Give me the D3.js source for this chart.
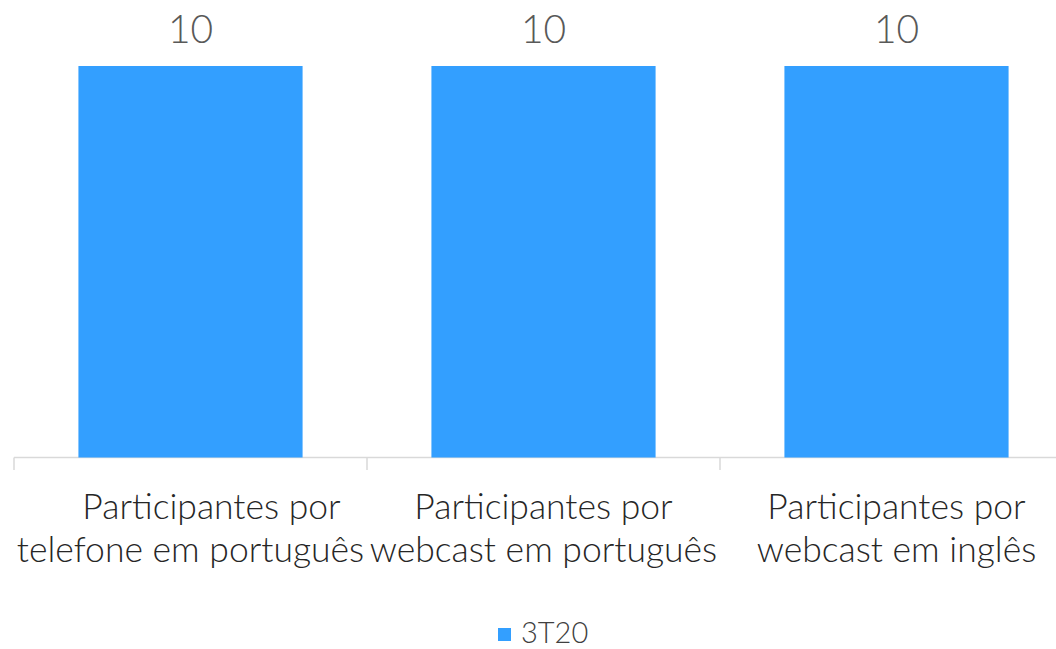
<!DOCTYPE html>
<html><head><meta charset="utf-8">
<script src="https://cdn.jsdelivr.net/npm/d3@7"></script>
<style>body{margin:0;background:#fff;}svg{display:block;font-family:Lato,sans-serif;font-weight:300;}</style>
</head><body>
<svg id="c" width="1056" height="649"></svg>
<script>
const categories = ["Participantes por telefone em português", "Participantes por webcast em português", "Participantes por webcast em inglês"];
const categoryLines = [["Participantes por","telefone em português"],["Participantes por","webcast em português"],["Participantes por","webcast em inglês"]];
const values = [10, 10, 10];
const seriesName = "3T20";

const svg = d3.select("#c");
const x = d3.scaleBand().domain(categories).range([14, 14 + 3*353]).paddingInner(0.365).paddingOuter(0.1825);
const y = d3.scaleLinear().domain([0, 10]).range([457.5, 66]);

svg.append("line").attr("x1",14).attr("x2",1056).attr("y1",457.5).attr("y2",457.5).attr("stroke","#d9d9d9").attr("stroke-width",1.5);
const step = x.step();
categories.forEach((c,i)=>{
  const tx = 14 + i*step;
  svg.append("line").attr("x1",tx).attr("x2",tx).attr("y1",457.5).attr("y2",470).attr("stroke","#d9d9d9").attr("stroke-width",1.5);
});

svg.selectAll("rect.bar").data(values).enter().append("rect").attr("class","bar")
  .attr("x",(d,i)=>x(categories[i])).attr("width",x.bandwidth())
  .attr("y",d=>y(d)).attr("height",d=>y(0)-y(d)).attr("fill","#339fff");

svg.selectAll("text.val").data(values).enter().append("text").attr("class","val")
  .attr("x",(d,i)=>x(categories[i])+x.bandwidth()/2).attr("y",d=>y(d)-23)
  .attr("text-anchor","middle").attr("font-size",39).attr("fill","#595959").text(d=>d);

categories.forEach((c,i)=>{
  const cx = x(c)+x.bandwidth()/2;
  const t = svg.append("text").attr("text-anchor","middle").attr("font-size",35.5).attr("fill","#262626");
  categoryLines[i].forEach((ln,j)=>{
    // first label's top line is shifted right in the original (wrapped against the left edge)
    const shift = (i===0 && j===0) ? 21 : 0;
    t.append("tspan").attr("x",cx + shift).attr("y",519+j*43).text(ln);
  });
});

svg.append("rect").attr("x",498).attr("y",628).attr("width",13).attr("height",13).attr("fill","#339fff");
svg.append("text").attr("x",521).attr("y",643).attr("font-size",29).attr("fill","#404040").text(seriesName);
</script>
</body></html>
